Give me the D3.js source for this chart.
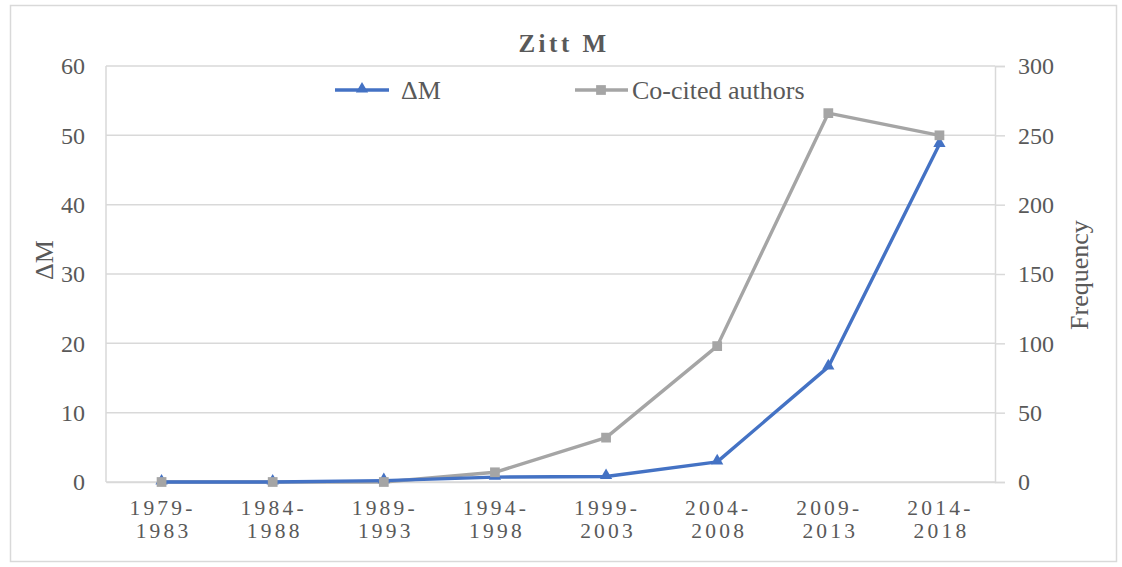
<!DOCTYPE html>
<html><head><meta charset="utf-8">
<script src="https://cdn.jsdelivr.net/npm/d3@7"></script>
<style>body{margin:0;background:#fff}svg{display:block}</style>
</head><body><svg id="c" width="1122" height="567" font-family="'Liberation Serif', 'Times New Roman', serif"></svg>
<script>
const categories = ["1979-1983","1984-1988","1989-1993","1994-1998","1999-2003","2004-2008","2009-2013","2014-2018"];
const deltaM = [0, 0, 0.2, 0.7, 0.8, 2.9, 16.6, 48.7];
const coCited = [0, 0, 0, 7, 32, 98, 266, 250];
const leftTicks = [0,10,20,30,40,50,60];
const rightTicks = [0,50,100,150,200,250,300];
const title = "Zitt M";
const seriesNames = ["\u0394M", "Co-cited authors"];
const axisTitles = ["\u0394M", "Frequency"];
const FONT = "Liberation Serif";
const TXT = "#595959";

const svg = d3.select("#c");
const m = {l:106, r:995, t:66, b:482};
svg.append("rect").attr("x",10.5).attr("y",5.5).attr("width",1106).attr("height",556).attr("fill","#fff").attr("stroke","#d9d9d9").attr("stroke-width",1.5);

const x = d3.scalePoint().domain(categories).range([m.l, m.r]).padding(0.5);
const yL = d3.scaleLinear().domain([0,60]).range([m.b, m.t]);
const yR = d3.scaleLinear().domain([0,300]).range([m.b, m.t]);

// gridlines
svg.append("g").selectAll("line").data(leftTicks).join("line")
  .attr("x1",m.l).attr("x2",m.r).attr("y1",d=>yL(d)).attr("y2",d=>yL(d))
  .attr("stroke","#d9d9d9").attr("stroke-width",1.5);
svg.append("line").attr("x1",m.l).attr("x2",m.l).attr("y1",m.t).attr("y2",m.b).attr("stroke","#d9d9d9").attr("stroke-width",1.5);

// left axis
const gl = svg.append("g").attr("transform",`translate(${m.l},0)`)
  .call(d3.axisLeft(yL).tickValues(leftTicks).tickSize(0).tickPadding(21));
gl.attr("font-family",FONT).attr("font-size",24);
gl.select(".domain").remove();
gl.selectAll("text").attr("fill",TXT);

// right axis
const gr = svg.append("g").attr("transform",`translate(${m.r},0)`)
  .call(d3.axisRight(yR).tickValues(rightTicks).tickSize(10).tickPadding(13));
gr.attr("font-family",FONT).attr("font-size",24);
gr.select(".domain").attr("stroke","#d9d9d9").attr("stroke-width",1.5);
gr.selectAll("line").attr("stroke","#d9d9d9").attr("stroke-width",1.5);
gr.selectAll("text").attr("fill",TXT);

// x axis
const gx = svg.append("g").attr("transform",`translate(0,${m.b})`)
  .call(d3.axisBottom(x).tickSize(0).tickFormat(""));
gx.select(".domain").attr("stroke","#d9d9d9").attr("stroke-width",1.5);
svg.append("g").attr("font-family",FONT).selectAll("text").data(categories).join("text")
  .attr("x",d=>x(d)).attr("y",515).attr("text-anchor","middle")
  .attr("font-size",21.5).attr("letter-spacing",3.2).attr("fill",TXT)
  .each(function(d){
    const parts = d.split("-");
    const t = d3.select(this);
    t.append("tspan").attr("x",x(d)+1).attr("dy",0).text(parts[0]+"-");
    t.append("tspan").attr("x",x(d)+2).attr("dy",22.5).text(parts[1]);
  });

// lines
const lineL = d3.line().x((d,i)=>x(categories[i])).y(d=>yL(d));
const lineR = d3.line().x((d,i)=>x(categories[i])).y(d=>yR(d));
svg.append("path").datum(coCited).attr("d",lineR).attr("fill","none").attr("stroke","#a5a5a5").attr("stroke-width",3.4).attr("stroke-linejoin","round");
svg.append("path").datum(deltaM).attr("d",lineL).attr("fill","none").attr("stroke","#4472c4").attr("stroke-width",3.4).attr("stroke-linejoin","round");

const tri = d3.symbol().type(d3.symbolTriangle).size(65);
const sq = d3.symbol().type(d3.symbolSquare).size(95);
svg.append("g").selectAll("path").data(deltaM).join("path")
  .attr("d",tri).attr("transform",(d,i)=>`translate(${x(categories[i])},${yL(d)-1})`).attr("fill","#4472c4");
svg.append("g").selectAll("path").data(coCited).join("path")
  .attr("d",sq).attr("transform",(d,i)=>`translate(${x(categories[i])},${yR(d)})`).attr("fill","#a5a5a5");

// title
svg.append("text").attr("x",564).attr("y",52).attr("text-anchor","middle").attr("font-family",FONT).attr("fill",TXT)
  .attr("font-size",25).attr("font-weight","bold").attr("letter-spacing",3.5).text(title);

// legend
const lg = svg.append("g").attr("font-family",FONT).attr("fill",TXT).attr("font-size",26);
lg.append("line").attr("x1",335).attr("x2",389).attr("y1",90).attr("y2",90).attr("stroke","#4472c4").attr("stroke-width",3.4);
lg.append("path").attr("d",tri).attr("transform","translate(362,89)").attr("fill","#4472c4");
lg.append("text").attr("x",401).attr("y",99).text(seriesNames[0]);
lg.append("line").attr("x1",575).attr("x2",628).attr("y1",90).attr("y2",90).attr("stroke","#a5a5a5").attr("stroke-width",3.4);
lg.append("path").attr("d",sq).attr("transform","translate(601,90)").attr("fill","#a5a5a5");
lg.append("text").attr("x",632).attr("y",99).text(seriesNames[1]);

// axis titles
svg.append("text").attr("transform","translate(53,260) rotate(-90)").attr("text-anchor","middle").attr("font-family",FONT).attr("fill",TXT).attr("font-size",26).text(axisTitles[0]);
svg.append("text").attr("transform","translate(1088,275) rotate(-90)").attr("text-anchor","middle").attr("font-family",FONT).attr("fill",TXT).attr("font-size",26).text(axisTitles[1]);
</script></body></html>
